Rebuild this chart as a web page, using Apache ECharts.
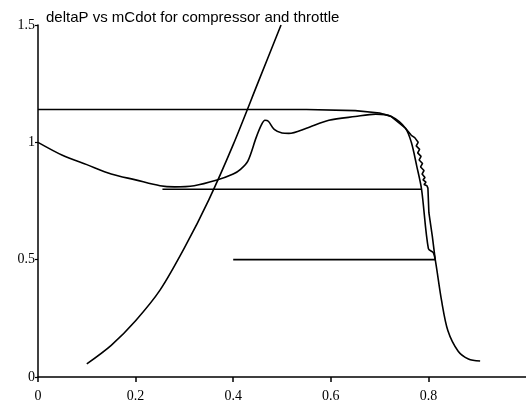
<!DOCTYPE html>
<html>
<head>
<meta charset="utf-8">
<script src="https://cdn.jsdelivr.net/npm/echarts@6/dist/echarts.min.js"></script>
<style>
  html, body { margin: 0; padding: 0; background: #fff; }
  #chart { width: 526px; height: 406px; }
</style>
</head>
<body>
<div id="chart"></div>
<script>
// compressor characteristic (steady state)
const compMdot = [0, 0.05, 0.10, 0.15, 0.20, 0.25, 0.28, 0.32, 0.365, 0.40, 0.415, 0.43, 0.447, 0.458, 0.465, 0.472, 0.484, 0.50, 0.514, 0.55, 0.596, 0.65, 0.692, 0.724, 0.753, 0.765, 0.776, 0.786, 0.80, 0.81, 0.814, 0.827, 0.84, 0.861, 0.882, 0.906];
const compDeltaP = [1.0, 0.945, 0.905, 0.865, 0.84, 0.815, 0.81, 0.815, 0.838, 0.865, 0.885, 0.92, 1.02, 1.075, 1.094, 1.09, 1.055, 1.04, 1.038, 1.06, 1.094, 1.11, 1.12, 1.11, 1.06, 1.0, 0.9, 0.8, 0.547, 0.53, 0.5, 0.325, 0.197, 0.11, 0.077, 0.068];

// transient path coming in from the left and ringing down the right edge
const trajMdot = [0, 0.30, 0.55, 0.65, 0.70, 0.724, 0.753, 0.765, 0.772, 0.779, 0.775, 0.782, 0.778, 0.785, 0.781, 0.788, 0.784, 0.791, 0.787, 0.793, 0.789, 0.795, 0.791, 0.797, 0.793, 0.799, 0.795, 0.801, 0.808, 0.814];
const trajDeltaP = [1.14, 1.14, 1.14, 1.135, 1.125, 1.11, 1.06, 1.03, 1.02, 1.0, 0.985, 0.97, 0.955, 0.94, 0.925, 0.91, 0.895, 0.88, 0.865, 0.85, 0.84, 0.83, 0.82, 0.815, 0.81, 0.805, 0.80, 0.70, 0.60, 0.50];

// horizontal steps
const step1Mdot = [0.255, 0.786];
const step1DeltaP = [0.80, 0.80];
const step2Mdot = [0.40, 0.814];
const step2DeltaP = [0.50, 0.50];

// throttle line
const thrMdot = [0.10, 0.15, 0.20, 0.25, 0.30, 0.35, 0.40, 0.45, 0.498];
const thrDeltaP = [0.056, 0.135, 0.24, 0.37, 0.55, 0.755, 0.99, 1.25, 1.5];

const zip = (xs, ys) => xs.map((x, i) => [x, ys[i]]);

const lineStyle = { color: '#000', width: 1.6 };
const mk = (name, xs, ys, smooth) => ({
  name: name,
  type: 'line',
  data: zip(xs, ys),
  showSymbol: false,
  smooth: smooth,
  lineStyle: lineStyle,
  silent: true
});

const chart = echarts.init(document.getElementById('chart'));
chart.setOption({
  animation: false,
  backgroundColor: '#fff',
  title: {
    text: 'deltaP vs mCdot for compressor and throttle',
    left: 46,
    top: 10,
    padding: 0,
    textStyle: { fontFamily: 'Liberation Sans', fontSize: 15, fontWeight: 'normal', color: '#000' }
  },
  grid: { left: 38, right: -2, top: 25, bottom: 29 },
  xAxis: {
    type: 'value',
    min: 0,
    max: 1,
    interval: 0.2,
    splitLine: { show: false },
    axisLine: { lineStyle: { color: '#000', width: 1.5 } },
    axisTick: { length: 5, lineStyle: { color: '#000', width: 1.5 } },
    axisLabel: { showMaxLabel: false, color: '#000', fontFamily: 'Liberation Serif', fontSize: 14, margin: 12 }
  },
  yAxis: {
    type: 'value',
    min: 0,
    max: 1.5,
    interval: 0.5,
    splitLine: { show: false },
    axisLine: { lineStyle: { color: '#000', width: 1.5 } },
    axisTick: { length: 3, lineStyle: { color: '#000', width: 1.2 } },
    axisLabel: { color: '#000', fontFamily: 'Liberation Serif', fontSize: 14, margin: 3 }
  },
  series: [
    mk('compressor', compMdot, compDeltaP, 0.3),
    mk('trajectory', trajMdot, trajDeltaP, false),
    mk('step1', step1Mdot, step1DeltaP, false),
    mk('step2', step2Mdot, step2DeltaP, false),
    mk('throttle', thrMdot, thrDeltaP, 0.3)
  ]
});
</script>
</body>
</html>
